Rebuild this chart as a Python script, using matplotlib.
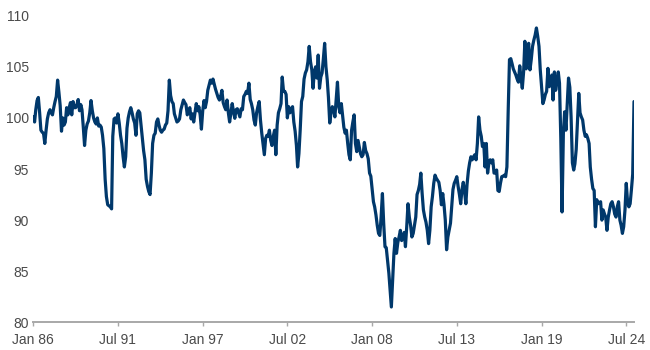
import matplotlib
matplotlib.use("Agg")
import matplotlib.pyplot as plt
import pandas as pd


START_MONTH = "1986-01-01"

# monthly index level, Jan 1986 onwards
index_values = [
    100.1, 99.6, 100.8, 101.7, 102.0, 100.5, 98.8, 98.6, 98.5, 97.5, 98.8, 99.9,  # 1986
    100.5, 100.8, 100.5, 100.3, 101.0, 101.6, 102.1, 103.7, 102.5, 101.2, 98.7, 100.0,  # 1987
    99.3, 99.6, 101.0, 100.3, 101.0, 101.5, 100.3, 101.6, 101.0, 101.0, 101.3, 101.8,  # 1988
    100.7, 101.3, 100.8, 99.1, 97.3, 98.8, 99.4, 99.7, 100.5, 101.7, 100.7, 100.0,  # 1989
    99.6, 99.4, 100.0, 99.2, 99.3, 99.1, 98.3, 97.0, 94.0, 92.3, 91.5, 91.4,  # 1990
    91.3, 91.1, 98.2, 99.9, 100.0, 99.5, 100.4, 99.5, 98.3, 97.5, 96.2, 95.2,  # 1991
    96.2, 99.0, 100.0, 100.6, 101.0, 100.5, 99.9, 99.5, 98.3, 100.4, 100.7, 100.5,  # 1992
    99.2, 98.0, 96.8, 95.9, 94.0, 93.3, 92.8, 92.5, 94.6, 97.5, 98.3, 98.5,  # 1993
    99.6, 99.9, 99.3, 98.8, 98.6, 98.8, 98.9, 99.3, 99.5, 100.7, 103.7, 102.2,  # 1994
    101.6, 101.4, 100.4, 100.0, 99.6, 99.7, 99.9, 100.8, 101.3, 101.75, 101.5, 101.3,  # 1995
    100.3, 100.7, 101.0, 99.9, 100.4, 99.6, 100.5, 101.4, 100.7, 101.1, 100.3, 98.9,  # 1996
    100.7, 101.7, 101.0, 101.6, 102.7, 103.2, 103.7, 103.4, 103.8, 103.3, 102.8, 102.4,  # 1997
    102.0, 101.75, 102.1, 102.7, 101.5, 101.1, 100.8, 101.75, 100.5, 99.6, 100.5, 101.4,  # 1998
    100.6, 99.96, 100.8, 100.9, 100.5, 100.1, 100.9, 100.8, 102.1, 102.3, 102.6, 102.4,  # 1999
    103.4, 101.8, 101.4, 100.8, 99.8, 99.3, 100.5, 101.1, 101.6, 99.8, 98.5, 97.5,  # 2000
    96.4, 98.0, 98.3, 98.2, 98.8, 97.8, 97.3, 98.2, 98.8, 96.4, 99.3, 100.5,  # 2001
    100.9, 101.4, 104.0, 102.6, 102.6, 102.3, 100.0, 101.1, 100.5, 100.8, 101.1, 99.6,  # 2002
    98.7, 97.3, 95.2, 96.5, 98.8, 101.6, 102.1, 103.8, 104.4, 104.7, 105.5, 107.0,  # 2003
    105.5, 104.7, 102.9, 104.5, 105.0, 103.9, 106.15, 102.9, 104.0, 104.4, 105.8, 107.3,  # 2004
    105.0, 103.7, 102.0, 99.5, 100.5, 101.1, 100.8, 100.1, 101.8, 103.5, 101.1, 100.5,  # 2005
    101.4, 100.2, 99.1, 98.5, 98.8, 97.5, 96.4, 95.9, 98.8, 99.6, 100.3, 97.5,  # 2006
    96.7, 97.8, 97.2, 96.5, 96.2, 96.4, 97.6, 96.8, 96.5, 96.0, 94.6, 94.3,  # 2007
    93.0, 91.8, 91.3, 90.5, 89.5, 88.7, 88.5, 90.3, 92.6, 89.7, 87.4, 87.3,  # 2008
    86.0, 84.8, 83.2, 81.5, 84.1, 86.75, 88.2, 86.75, 87.8, 88.35, 89.0, 88.0,  # 2009
    88.4, 88.8, 87.4, 89.4, 91.6, 90.3, 89.5, 88.35, 88.7, 89.5, 90.3, 92.5,  # 2010
    92.9, 93.5, 94.6, 92.6, 91.0, 90.3, 89.8, 89.0, 87.7, 89.0, 91.3, 92.3,  # 2011
    93.6, 94.4, 94.1, 93.9, 93.7, 92.9, 91.5, 92.6, 91.5, 90.0, 87.1, 88.35,  # 2012
    89.0, 89.7, 91.3, 93.0, 93.6, 93.9, 94.25, 93.3, 92.5, 91.6, 93.0, 93.7,  # 2013
    92.8, 91.6, 93.5, 94.8, 95.6, 96.2, 95.9, 96.2, 96.4, 95.9, 97.5, 100.1,  # 2014
    98.8, 98.2, 97.2, 97.5, 95.2, 97.5, 94.6, 95.6, 95.9, 95.6, 95.9, 94.6,  # 2015
    94.6, 94.9, 92.9, 92.8, 93.6, 94.25, 94.3, 94.4, 94.25, 95.2, 100.8, 105.7,  # 2016
    105.8, 105.3, 104.8, 104.5, 104.2, 103.8, 103.5, 105.1, 103.9, 102.9, 104.5, 107.5,  # 2017
    104.8, 106.5, 107.3, 104.7, 105.7, 107.0, 107.6, 108.1, 108.8, 108.0, 107.0, 104.7,  # 2018
    103.0, 101.4, 101.75, 102.3, 102.6, 104.85, 103.05, 103.5, 104.2, 101.75, 104.5, 102.7,  # 2019
    103.5, 104.5, 103.4, 98.0, 90.8, 98.5, 100.6, 98.8, 101.5, 103.9, 103.0, 100.1,  # 2020
    95.6, 94.9, 95.5, 96.9, 99.5, 102.4, 100.5, 100.1, 99.8, 98.8, 98.2, 98.35,  # 2021
    98.0, 97.5, 95.2, 94.0, 93.1, 92.9, 89.35, 92.0, 91.6, 91.7, 91.8, 90.0,  # 2022
    91.0, 90.6, 90.3, 89.0, 90.3, 91.0, 91.6, 91.8, 91.3, 90.6, 90.3, 91.3,  # 2023
    91.8, 90.0, 89.5, 88.7, 89.35, 91.0, 93.6, 91.8, 91.3, 91.6, 93.0, 94.5,  # 2024
    101.6,  # 2025
]

y_ticks = [80, 85, 90, 95, 100, 105, 110]
x_tick_labels = ["Jan 86", "Jul 91", "Jan 97", "Jul 02", "Jan 08", "Jul 13", "Jan 19", "Jul 24"]
X_TICK_STEP = 66  # months between labels

LINE_COLOR = "#00386b"
TEXT_COLOR = "#4a4a4a"
AXIS_COLOR = "#a8a8a8"

plt.rcParams["font.family"] = ["Liberation Sans", "DejaVu Sans"]

dates = pd.date_range(START_MONTH, periods=len(index_values), freq="MS")

fig = plt.figure(figsize=(6.5, 3.5), dpi=100)
ax = fig.add_axes([0.0512, 0.0791, 0.9242, 0.876])

ax.plot(dates, index_values, color=LINE_COLOR, linewidth=2.3,
        solid_joinstyle="round", solid_capstyle="round")

ax.set_xlim(dates[0], dates[-1])
ax.set_ylim(y_ticks[0], y_ticks[-1])
ax.set_yticks(y_ticks)
ax.set_xticks(dates[::X_TICK_STEP])
ax.set_xticklabels(x_tick_labels)

for side in ["top", "right", "left"]:
    ax.spines[side].set_visible(False)
ax.spines["bottom"].set_color(AXIS_COLOR)
ax.spines["bottom"].set_linewidth(1.4)

ax.tick_params(axis="y", length=0, pad=3, labelsize=10, labelcolor=TEXT_COLOR)
ax.tick_params(axis="x", length=3, width=1, color=AXIS_COLOR, pad=5,
               labelsize=10, labelcolor=TEXT_COLOR)

fig.savefig("out.png", dpi=100)
